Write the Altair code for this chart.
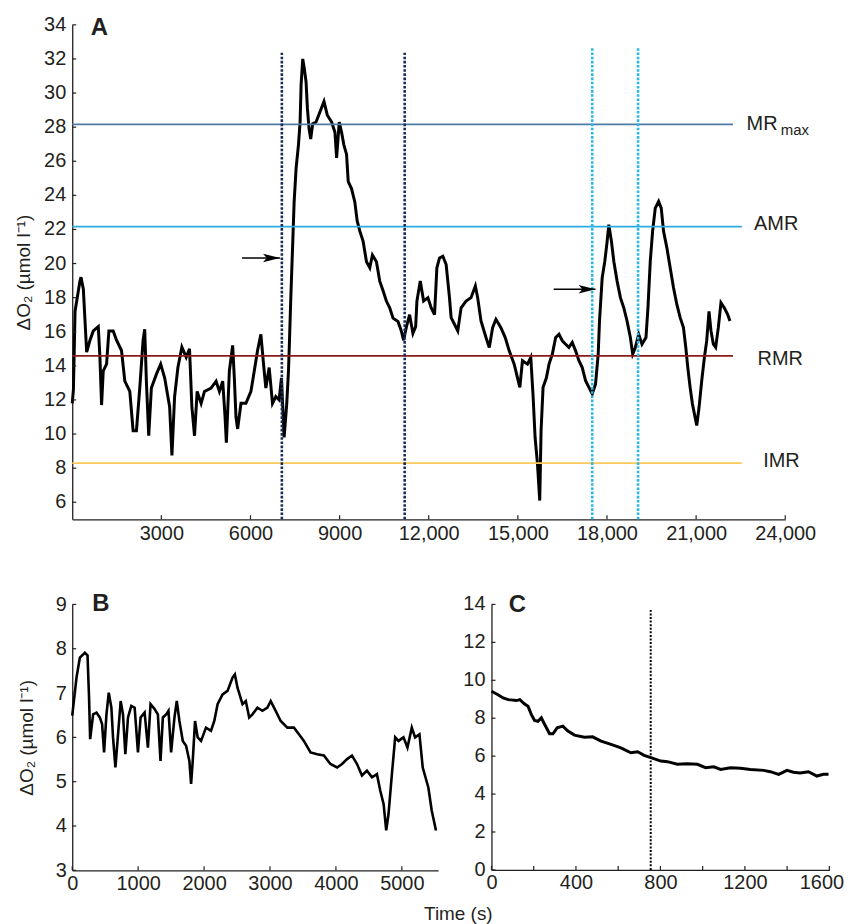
import altair as alt
import pandas as pd

FONT = "Liberation Sans"
INK = "#231f20"

# ---------------- Panel A data ----------------
a_time = [0, 40, 95, 262, 296, 374, 486, 597, 709, 877, 932, 988, 1044, 1156, 1234, 1379, 1491, 1659, 1770,
          1938, 2049, 2161, 2273, 2385, 2440, 2496, 2575, 2664, 2831, 2977, 3111, 3278, 3356, 3446, 3557,
          3691, 3837, 3948, 4027, 4116, 4205, 4339, 4451, 4674, 4842, 4954, 5065, 5144, 5188, 5289, 5400,
          5456, 5512, 5568, 5680, 5847, 6015, 6127, 6238, 6350, 6439, 6517, 6629, 6741, 6853, 6964, 7042,
          7132, 7221,
          7279, 7313, 7357, 7424, 7469, 7536, 7614, 7670, 7704, 7759, 7815, 7871, 7916, 7972, 8027, 8094,
          8206, 8318, 8474, 8586, 8731, 8843, 8899, 8988, 9066, 9145, 9234, 9290, 9401, 9513, 9591, 9681,
          9792, 9904, 10016, 10105, 10239, 10351, 10463, 10574, 10686, 10798, 10965, 11077, 11155, 11244,
          11356, 11468,
          11560, 11602, 11715, 11827, 11972, 12084, 12195, 12274, 12363, 12475, 12586, 12698, 12754, 12866,
          12977, 13089, 13257, 13424, 13569, 13647, 13759, 13927, 14038, 14150, 14262, 14429, 14575, 14709,
          14876, 14988, 15066, 15155, 15323, 15435, 15513, 15580, 15658, 15736, 15781, 15848, 15960, 16049,
          16161, 16272, 16384, 16496, 16608, 16719, 16831, 16943,
          17056, 17167, 17279, 17391, 17503, 17614, 17704, 17748, 17838, 17927, 18005, 18061, 18150, 18229,
          18340, 18452, 18564, 18675, 18787, 18865, 18955, 19066, 19178, 19312, 19379, 19457, 19535, 19625,
          19737, 19826, 19904, 20016, 20127, 20239, 20351, 20463, 20574, 20652, 20719, 20798, 20876, 20965,
          21021, 21099, 21189, 21278, 21356, 21434, 21501, 21580, 21658, 21747, 21836, 21948, 22060, 22138]
a_o2 = [11.8, 12.6, 17.2, 19.0, 19.2, 18.5, 14.8, 15.5, 16.05, 16.3, 14.5, 11.7, 13.7, 14.1, 16.05, 16.05, 15.5,
        14.9, 13.1, 12.5, 10.2, 10.2, 12.7, 15.5, 16.15, 13.1, 9.9, 12.7, 13.5, 14.1, 13.3, 11.6, 8.75, 12.2,
        13.9, 15.1, 14.5, 15.0, 11.6, 9.9, 12.5, 11.8, 12.5, 12.7, 13.1, 12.5, 13.1, 11.0, 9.5, 13.7, 15.2,
        13.3, 11.0, 10.3, 11.8, 11.8, 12.5, 13.7, 14.9, 15.85, 14.1, 12.7, 13.9, 11.8, 12.2, 12.0, 13.3,
        9.8, 11.8,
        13.7, 15.5, 18.0, 21.3, 23.6, 25.6, 26.95, 28.3, 30.5, 32.0, 31.4, 30.65, 29.1, 27.9, 27.3, 28.2,
        28.3, 28.8, 29.5, 28.7, 28.3, 27.7, 26.2, 28.3, 27.7, 26.95, 26.4, 24.8, 24.4, 23.6, 22.5, 21.9,
        21.3, 20.1, 19.75, 20.5, 20.1, 18.97, 18.4, 17.8, 17.4, 16.8, 16.6, 16.05, 15.5, 16.25,
        17.0, 15.9,
        16.3, 17.8, 18.97, 17.8, 18.0, 17.4, 17.0, 19.75, 20.33, 20.43, 19.94, 18.0, 16.83, 16.44,
        16.05, 17.4, 17.8, 18.0, 18.68, 18.0, 16.63, 15.66, 15.08, 16.24, 16.73, 16.24, 15.66, 14.88,
        14.1, 13.3, 12.74, 14.3, 14.1, 14.49, 12.2, 9.8, 8.3, 6.1, 10.2, 12.74, 13.3, 14.1,
        14.69, 15.66, 15.85, 15.47, 15.27, 15.08, 15.37, 14.88,
        14.3, 13.9, 13.13, 12.74, 12.35, 12.93, 14.69, 16.63, 19.16, 20.14, 21.3, 22.28, 21.3, 20.14,
        18.97, 18.0, 17.41, 16.63, 15.66, 14.69, 15.08, 15.85, 15.27, 15.66, 17.41, 20.14, 21.89, 23.25,
        23.64, 23.25, 21.89, 20.92, 19.75, 18.58, 17.6, 16.83, 16.24, 15.08, 13.91, 12.74, 11.76, 10.99,
        10.5, 11.57, 13.13, 14.49, 15.46, 17.2, 16.05, 15.27, 15.08, 16.24, 17.7, 17.41, 17.02, 16.63]

a_xticks = list(range(3000, 24001, 3000))
a_yticks = list(range(6, 35, 2))

ref_text = ["MR", "AMR", "RMR", "IMR"]
ref_values = [28.16, 22.17, 14.59, 8.30]
ref_ends = [22240, 22540, 22240, 22540]
ref_label_x = [22700, 22950, 23070, 23260]
ref_sub_x = 23850
ref_colors = ["#4f7ba3", "#29abe2", "#8b1a1a", "#fcc85a"]
ref_label_dy = [5.3, 3.7, 9.0, 4.3]

trial_times = [7056, 11190, 17503, 19046]
trial_tops = [32.36, 32.36, 32.7, 32.7]
trial_colors = ["#1b2a5c", "#1b2a5c", "#29b6e8", "#29b6e8"]

arrow_start = [5716, 16206]
arrow_end = [6990, 17614]
arrow_level = [20.33, 18.49]

# ---------------- Panel B data ----------------
b_time = [0, 65, 116, 191, 232, 255, 272, 317, 368, 418, 453, 483, 519, 554, 594, 619, 655, 695, 735, 770,
          806, 846, 896, 947, 997, 1037, 1098, 1148, 1188, 1249, 1299, 1339, 1375, 1425, 1460, 1500, 1551,
          1586, 1626, 1677, 1727, 1777, 1803, 1828, 1863, 1903, 1954, 2029, 2105, 2155, 2205, 2281, 2356,
          2432, 2467, 2507, 2583, 2633, 2684, 2734, 2809, 2885, 2961, 3011, 3086, 3162, 3263, 3363, 3439,
          3514, 3615, 3716, 3817, 3917, 4018, 4093, 4169, 4244, 4320, 4395, 4471, 4547, 4622, 4672, 4723,
          4763, 4798, 4849, 4899, 4949, 5025, 5085, 5151, 5201, 5267, 5317, 5402, 5453, 5518]
b_o2 = [6.49, 7.35, 7.8, 7.91, 7.85, 6.9, 5.96, 6.52, 6.56, 6.45, 6.3, 5.66, 6.52, 7.01, 6.67, 6.0, 5.32, 6.07,
        6.82, 6.52, 5.62, 6.45, 6.71, 6.67, 5.66, 6.45, 6.56, 5.77, 6.75, 6.64, 6.52, 5.47, 6.45, 6.52, 6.6,
        5.66, 6.45, 6.82, 6.37, 5.92, 5.81, 5.47, 4.95, 5.47, 6.37, 6.0, 5.92, 6.22, 6.15, 6.37, 6.75, 6.97,
        7.05, 7.35, 7.42, 7.12, 6.75, 6.82, 6.45, 6.52, 6.67, 6.6, 6.67, 6.82, 6.6, 6.37, 6.22, 6.22, 6.07,
        5.92, 5.66, 5.62, 5.59, 5.4, 5.32, 5.4, 5.51, 5.59, 5.4, 5.14, 5.25, 5.1, 5.17, 4.8, 4.5,
        3.9, 4.27, 5.17, 6.0, 5.92, 6.0, 5.77, 6.22, 6.0, 6.07, 5.32, 4.87, 4.35, 3.9]
b_xticks = list(range(0, 5001, 1000))
b_yticks = list(range(3, 10))

# ---------------- Panel C data ----------------
c_time = [0, 31, 55, 79, 118, 134, 157, 173, 189, 204, 220, 236, 252, 275, 291, 311, 338, 362, 393, 440, 479,
          519, 566, 613, 660, 692, 723, 755, 802, 833, 880, 927, 975, 1014, 1053, 1085, 1132, 1179, 1226,
          1289, 1320, 1360, 1399, 1430, 1462, 1501, 1541, 1572, 1596]
c_o2 = [9.42, 9.24, 9.07, 8.98, 8.93, 8.98, 8.75, 8.63, 8.19, 7.88, 7.84, 8.02, 7.67, 7.18, 7.18, 7.49, 7.58,
        7.32, 7.11, 7.0, 7.02, 6.79, 6.62, 6.44, 6.18, 6.23, 6.04, 5.92, 5.74, 5.71, 5.57, 5.6, 5.57, 5.39,
        5.44, 5.3, 5.39, 5.36, 5.3, 5.25, 5.18, 5.04, 5.25, 5.15, 5.11, 5.18, 4.95, 5.04, 5.04]
c_xticks = list(range(0, 1601, 200))
c_xlabels = [0, 400, 800, 1200, 1600]
c_yticks = list(range(0, 15, 2))
c_marker_time = [754]
c_marker_top = [13.7]

Y_TITLE = "ΔO₂ (µmol l⁻¹)"
ARROW = "M -2 -0.5 L 0 0 L -2 0.5 L -1.55 0 Z"

# ---------------- sizes ----------------
A_W, A_H = 716, 496.5
B_W, B_H = 367.4, 267
C_W, C_H = 339.3, 266.6


def x_ticks(vals, h):
    return alt.Chart(pd.DataFrame({"t": vals})).mark_rule(color=INK, strokeWidth=1.2).encode(
        x="t:Q", y=alt.value(h), y2=alt.value(h - 4))


def y_ticks(vals):
    return alt.Chart(pd.DataFrame({"v": vals})).mark_rule(color=INK, strokeWidth=1.2).encode(
        y="v:Q", x=alt.value(0), x2=alt.value(4))


def y_labels(vals):
    return alt.Chart(pd.DataFrame({"v": vals})).mark_text(
        font=FONT, fontSize=20, align="right", baseline="middle", color=INK, dx=-6
    ).encode(y="v:Q", x=alt.value(0), text=alt.Text("v:Q", format="d"))


def panel_label(txt, x, y):
    return alt.Chart(pd.DataFrame({"lab": [txt]})).mark_text(
        font=FONT, fontSize=24, fontWeight="bold", align="left", baseline="alphabetic", color=INK
    ).encode(text="lab:N", x=alt.value(x), y=alt.value(y))


# ---------------- Panel A ----------------
dfA = pd.DataFrame({"t": a_time, "v": a_o2})
xA = alt.X("t:Q", scale=alt.Scale(domain=[0, 24000], nice=False, zero=False),
           axis=alt.Axis(values=a_xticks, title=None, ticks=False, labelFlush=False, labelOverlap=False,
                         labelExpr="datum.value >= 10000 ? format(datum.value, ',') : format(datum.value, 'd')",
                         labelPadding=4))
yA = alt.Y("v:Q", scale=alt.Scale(domain=[5, 34], nice=False, zero=False),
           axis=alt.Axis(values=a_yticks, title=Y_TITLE, ticks=False, labels=False, titlePadding=39))

layersA = [alt.Chart(dfA).mark_line(color="black", strokeWidth=3).encode(x=xA, y=yA)]

for val, end, col in zip(ref_values, ref_ends, ref_colors):
    layersA.append(alt.Chart(pd.DataFrame({"v": [val], "t": [0], "t2": [end]})).mark_rule(
        color=col, strokeWidth=1.8).encode(y="v:Q", x="t:Q", x2="t2:Q"))

for tt, top, col in zip(trial_times, trial_tops, trial_colors):
    layersA.append(alt.Chart(pd.DataFrame({"t": [tt], "v": [5], "v2": [top]})).mark_rule(
        color=col, strokeWidth=2.6, strokeDash=[2.6, 1.6]).encode(x="t:Q", y="v:Q", y2="v2:Q"))

dfArr = pd.DataFrame({"t": arrow_start, "t2": arrow_end, "v": arrow_level})
layersA.append(alt.Chart(dfArr).mark_rule(color="black", strokeWidth=1.6).encode(x="t:Q", x2="t2:Q", y="v:Q"))
layersA.append(alt.Chart(dfArr).mark_point(shape=ARROW, filled=True, size=289, color="black", opacity=1,
                                           strokeWidth=0).encode(x=alt.X("t2:Q"), y="v:Q"))

for txt, lx, val, dy in zip(ref_text, ref_label_x, ref_values, ref_label_dy):
    layersA.append(alt.Chart(pd.DataFrame({"t": [lx], "v": [val], "s": [txt]})).mark_text(
        font=FONT, fontSize=20, align="left", baseline="alphabetic", dy=dy, color=INK).encode(
        x="t:Q", y="v:Q", text="s:N"))
layersA.append(alt.Chart(pd.DataFrame({"t": [ref_sub_x], "v": [ref_values[0]], "s": ["max"]})).mark_text(
    font=FONT, fontSize=15, align="left", baseline="alphabetic", dy=10.5, color=INK).encode(
    x="t:Q", y="v:Q", text="s:N"))

layersA += [x_ticks(a_xticks, A_H), y_ticks(a_yticks), y_labels(a_yticks), panel_label("A", 18.5, 10.3)]
chartA = alt.layer(*layersA).properties(width=A_W, height=A_H)

# ---------------- Panel B ----------------
dfB = pd.DataFrame({"t": b_time, "v": b_o2})
xB = alt.X("t:Q", scale=alt.Scale(domain=[0, 5550], nice=False, zero=False),
           axis=alt.Axis(values=b_xticks, title=None, ticks=False, labelFlush=False, labelOverlap=False,
                         format="d", labelPadding=3))
yB = alt.Y("v:Q", scale=alt.Scale(domain=[3, 9], nice=False, zero=False),
           axis=alt.Axis(values=b_yticks, title=Y_TITLE, ticks=False, labelPadding=6, titlePadding=19,
                         labelOverlap=False))
chartB = alt.layer(
    alt.Chart(dfB).mark_line(color="black", strokeWidth=2.6).encode(x=xB, y=yB),
    x_ticks(b_xticks, B_H), y_ticks(b_yticks), panel_label("B", 20, 6.7)
).properties(width=B_W, height=B_H)

# ---------------- Panel C ----------------
dfC = pd.DataFrame({"t": c_time, "v": c_o2})
xC = alt.X("t:Q", scale=alt.Scale(domain=[0, 1600], nice=False, zero=False),
           axis=alt.Axis(values=c_xlabels, title=None, ticks=False, labelFlush=False, labelOverlap=False,
                         format="d", labelPadding=3,
                         labelOffset={"condition": {"test": "datum.value == 1600", "value": -8}, "value": 0}))
yC = alt.Y("v:Q", scale=alt.Scale(domain=[0, 14], nice=False, zero=False),
           axis=alt.Axis(values=c_yticks, title=None, ticks=False, labels=False))
dfCm = pd.DataFrame({"t": c_marker_time, "v": [0], "v2": c_marker_top})
chartC = alt.layer(
    alt.Chart(dfC).mark_line(color="black", strokeWidth=3).encode(x=xC, y=yC),
    alt.Chart(dfCm).mark_rule(color="black", strokeWidth=2, strokeDash=[2, 1.6]).encode(
        x="t:Q", y="v:Q", y2="v2:Q"),
    x_ticks(c_xticks, C_H), y_ticks(c_yticks), y_labels(c_yticks), panel_label("C", 17.3, 7.3)
).properties(width=C_W, height=C_H)

bottom = alt.hconcat(chartB, chartC, spacing=21).properties(
    title=alt.TitleParams("Time (s)", orient="bottom", anchor="middle", dx=28, offset=12, fontSize=19,
                          font=FONT, fontWeight="normal", color=INK)
)

chart = alt.vconcat(chartA, bottom, spacing=48).properties(
    padding={"left": 6.5, "top": 5, "right": 0, "bottom": 5}
).configure_view(stroke=None).configure_axis(
    labelFont=FONT, titleFont=FONT, labelFontSize=20, titleFontSize=19, titleFontWeight="normal",
    labelColor=INK, titleColor=INK, domainColor=INK, domainWidth=1.3, grid=False, labelOverlap=False
)

chart.save("out.html", embed_options={"renderer": "svg", "actions": False})
